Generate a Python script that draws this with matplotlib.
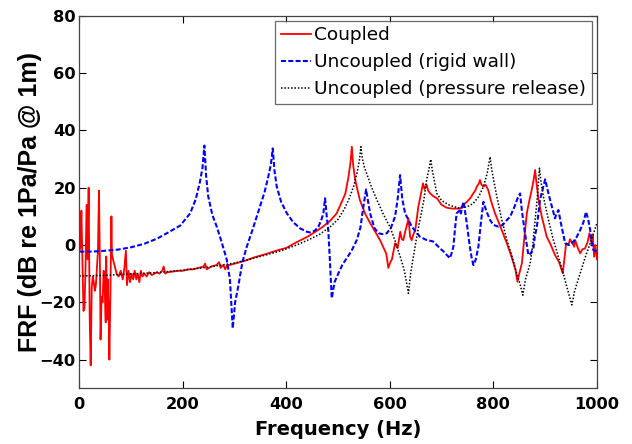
import matplotlib
matplotlib.use('Agg')
import matplotlib.pyplot as plt

plt.rcParams['font.family'] = ['DejaVu Sans']

# Coupled response
f_coupled = [0, 2, 4, 6, 8, 10, 12, 14, 16, 18, 20, 22, 24, 26, 28, 30, 32, 34, 36, 38,
             40, 41, 43, 45, 47, 49, 51, 52, 54, 55, 57, 58, 60, 62, 63, 65, 68, 72, 76, 80,
             84, 87, 90, 92, 95, 98, 101, 104, 107, 110, 113, 116, 119, 122, 126, 130, 135, 140, 145, 150,
             155, 160, 163, 166, 170, 180, 190, 200, 210, 220, 230, 240, 243, 246, 255, 265, 270, 273, 278, 282,
             285, 290, 300, 320, 340, 360, 380, 400, 420, 440, 455, 470, 485, 497, 507, 514, 520, 524, 526.5, 529,
             533, 542, 552, 562, 572, 581, 588, 593, 597, 601, 604, 610, 615, 620, 623, 626, 630, 633, 636, 639,
             642, 646, 649, 655, 660, 664, 667, 671, 674, 678, 684, 691, 700, 710, 720, 736, 742, 749, 756, 761,
             765, 768, 772, 774, 777, 781, 785, 790, 796, 803, 810, 816, 826, 833, 839, 843, 846.4, 850, 855, 860,
             864.6, 870, 874, 878, 880.6, 883, 887, 893.5, 903, 911, 919, 927, 934, 937, 940.5, 945, 948, 953, 956, 958,
             963, 967.6, 972, 977, 982, 985.5, 988, 990, 992, 994.6, 997, 1000]
db_coupled = [-2, -1, 12, -5, -23, -22, -8, 14, -5, 20, -25, -42, -15, -11, -13, -16, -14, -8, -2, 19,
              -10, -33, -18, -20, -9, -15, -27, -4, -26, -12, -25, -40, -18, 10, -3, -5, -7, -10, -11, -9,
              -12, -8, -2, -14, -9, -13, -10, -12, -9, -12, -10, -13, -9, -11, -10, -11, -9.5, -10.5, -10, -9.5,
              -10, -9, -7.5, -10, -9.5, -9.3, -9, -9, -8.5, -8.5, -8, -7.5, -6.5, -8.5, -7.5, -7, -6, -8, -7, -8.5,
              -7, -7, -6.5, -5.5, -4.2, -3.2, -2, -1, 1, 2.8, 4.5, 6.3, 8.5, 11, 15, 18, 23.8, 29, 34.3, 28,
              22.7, 15.7, 11, 7.6, 4.5, 1.7, -1, -3, -8, -6, -5, 0.6, -1, 4.6, 2, 1.7, 5, 7, 9.3, 3,
              1.7, 4, 5.2, 13.4, 18, 21.5, 19.5, 21, 19, 18, 17, 16.3, 14, 13, 12.7, 12.7, 14, 15.1, 16.5, 18,
              19, 20.4, 21.5, 22.7, 21, 20.4, 21, 19.2, 15, 11.1, 8, 5.2, 0.6, -3, -6.4, -9, -12.8, -10, -6.4, 3,
              11.1, 16, 19.2, 23, 26.2, 22, 16, 9.9, 2.9, 0, -3.5, -6, -9.9, -5, 0.6, 0, 2, 0.6, -0.6, 1.7,
              -1, -2.9, -1.5, -1.2, 1, 4.1, 2, 0.6, 3.5, -4.1, 0, -5]

# Uncoupled, rigid wall
f_rigid = [0, 25, 50, 75, 100, 125, 150, 170, 195, 214, 225, 233, 238, 241.6, 245, 249, 257, 265.5, 275, 285,
           291, 296.4, 301, 307, 315, 323.5, 335, 349, 358, 365, 370, 373.7, 377, 381.4, 390, 400.8, 413, 426.5, 440, 446,
           455, 462, 468, 471.5, 474.8, 478, 481, 484, 487.7, 493, 500.5, 508, 516.7, 526, 536, 543, 548.8, 554, 558, 561.7,
           570, 577.8, 586, 594, 602, 610, 615, 619.7, 624, 629.4, 642.3, 658, 670, 684, 697, 705, 710, 716, 719, 722.7,
           726, 729, 735.7, 737, 742, 745, 748.6, 754, 758, 761.4, 766, 771, 776, 780.7, 786, 793.6, 800, 809.7, 818, 825,
           832.3, 840, 846, 851.6, 855, 861, 867.6, 872, 877.3, 880, 884, 890, 900, 905, 909.6, 915, 919, 922, 925.6, 930,
           938.6, 946, 954.6, 960, 967.6, 974, 979, 983, 987, 990, 993, 997, 1000]
db_rigid = [-2.3, -2.3, -2.0, -1.6, -0.8, 0.4, 2.2, 4.2, 6.8, 11, 16, 22, 27, 34.7, 24, 17, 10.5, 6.4, 1, -5.2,
            -12, -29.1, -20, -14.5, -6, -0.6, 5.5, 13.4, 18.5, 23.8, 28, 33.7, 26, 20.4, 15, 11.1, 8, 5.8, 4.6, 4.4,
            5, 6.4, 9, 11.1, 16.3, 10, 5.2, -5, -18.6, -13, -9.9, -7, -4.6, -2, 1.7, 6, 13.4, 19.4, 15, 11.1,
            6, 4.1, 3.8, 4.1, 6, 9.9, 16, 24.4, 16, 11.1, 6.4, 2.9, 1.8, 1.2, -1.2, -2.5, -3.5, -4.6, -3, -0.6,
            6, 11.1, 12.2, 11, 15.1, 12, 7.6, 0, -4.5, -7, -5, -0.6, 8, 15.1, 12, 8.7, 7, 6.4, 7, 8.5,
            9.9, 13, 16, 18, 12, 4.1, -3.5, -3, -1.2, 3, 6.4, 15.7, 22.9, 19, 15.7, 12, 9.3, 11, 12.2, 8,
            0.6, 0, 1.2, 2.5, 5.2, 8, 11.6, 9, 5.2, 1, -1.7, -2, -2.5]

# Uncoupled, pressure release
f_release = [0, 50, 100, 150, 200, 250, 300, 350, 390, 420, 445, 465, 485, 500, 512, 522, 530, 537, 541, 544,
             547, 551, 555, 565, 575, 588, 600, 610, 620, 628, 632, 635.8, 640, 645.4, 652, 658, 665, 671, 676, 679,
             682, 690.6, 700, 716, 736, 750, 761, 772, 780.7, 788, 793.6, 797, 806.6, 816, 826, 836, 845, 852, 856.8, 862,
             871, 876, 880.6, 885, 889, 892, 896.6, 906, 916, 926, 935, 944, 951.5, 957, 967.6, 977, 986.9, 1000]
db_release = [-10.8, -10.6, -10.1, -9.6, -8.8, -7.7, -6.3, -4, -2, 0, 2, 3.8, 6.4, 9, 12.5, 16.5, 20.5, 25.5, 29.5, 34.3,
              30, 27, 25, 20, 15.7, 10.5, 6.4, 1.5, -4.1, -9, -13, -16.9, -10, -4.1, 3, 8.7, 15, 22.7, 27, 29.9,
              26, 18, 15.5, 13.8, 12.8, 13.4, 14.5, 17, 20.4, 25, 30.8, 26, 16.9, 9, 1.7, -4, -9.9, -14, -17.5, -12,
              -6.4, 0, 8.7, 17, 26.8, 22, 16.9, 9, 1.7, -4.5, -9.9, -16, -20.9, -16, -9.9, -4.5, 0.6, 7.6]

fig = plt.figure(figsize=(6.32, 4.44), dpi=100)
axe = fig.add_axes([0.1255, 0.1255, 0.819, 0.839])

axe.plot(f_coupled, db_coupled, color='red', linewidth=1.3, label='Coupled')
axe.plot(f_rigid, db_rigid, color='blue', linewidth=1.5, linestyle=(0, (2.4, 1.1)), label='Uncoupled (rigid wall)')
axe.plot(f_release, db_release, color='black', linewidth=1.1, linestyle=(0, (1, 1.2)),
         label='Uncoupled (pressure release)')

axe.set_xlim(0, 1000)
axe.set_ylim(-50, 80)
axe.set_xticks([0, 200, 400, 600, 800, 1000])
axe.set_yticks([-40, -20, 0, 20, 40, 60, 80])
axe.tick_params(direction='in', top=True, right=True, length=5, width=0.8, labelsize=11.7)
axe.tick_params(axis='x', pad=6.5)
axe.tick_params(axis='y', pad=2.5)
for lab in axe.get_xticklabels() + axe.get_yticklabels():
	lab.set_fontweight('bold')
for sp in axe.spines.values():
	sp.set_color('#444444')
	sp.set_linewidth(0.9)

axe.set_xlabel('Frequency (Hz)', fontsize=14, fontweight='bold', va='top')
axe.xaxis.set_label_coords(0.5, -0.085)
axe.set_ylabel('FRF (dB re 1Pa/Pa @ 1m)', fontsize=18, fontweight='bold', family=['Liberation Sans', 'DejaVu Sans'])
axe.yaxis.set_label_coords(-0.072, 0.5)

leg = axe.legend(loc='upper right', fontsize=13.3, frameon=True, fancybox=False, handlelength=1.62,
                 handletextpad=0.2, labelspacing=0.48, borderpad=0.3, borderaxespad=0.27)
leg.get_frame().set_edgecolor('#444444')
leg.get_frame().set_linewidth(0.9)

plt.savefig('out.png', dpi=100)
